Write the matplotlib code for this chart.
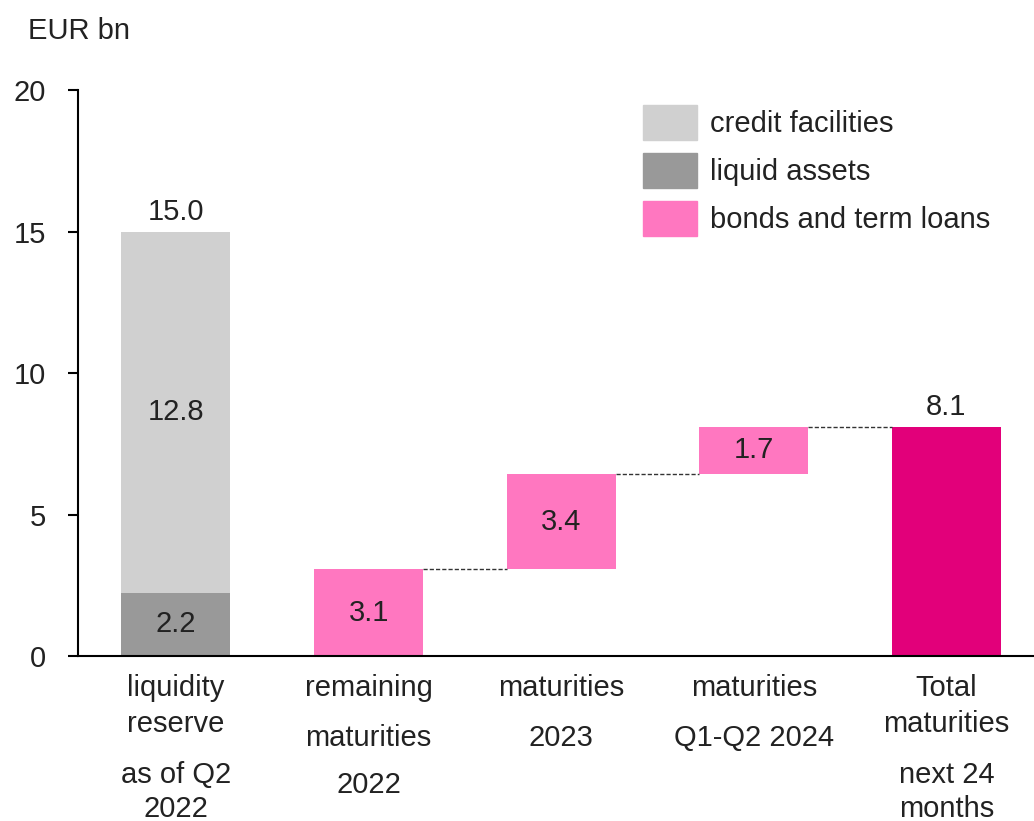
import matplotlib.pyplot as plt
import numpy as np
from matplotlib.patches import Patch
from matplotlib.transforms import ScaledTranslation

plt.rcParams["font.family"] = ["Liberation Sans", "DejaVu Sans"]
fs = 21
txt = "#222222"

# data
liquid_assets = 2.24
credit_facilities = 12.76
maturities = [3.07, 3.36, 1.67]  # remaining 2022, 2023, Q1-Q2 2024
total_maturities = sum(maturities)

cat_lines = [
    ["liquidity", "reserve", "as of Q2", "2022"],
    ["remaining", "maturities", "2022"],
    ["maturities", "2023"],
    ["maturities", "Q1-Q2 2024"],
    ["Total", "maturities", "next 24", "months"],
]
legend_labels = ["credit facilities", "liquid assets", "bonds and term loans"]

c_light = "#d0d0d0"
c_dark = "#999999"
c_pink = "#ff77c0"
c_mag = "#e2007a"

fig = plt.figure(figsize=(10.34, 8.21), dpi=100)
ax = fig.add_axes([0.0754, 0.201, 0.9246, 0.689])
w = 0.566

# liquidity reserve stack
ax.bar(0, liquid_assets, width=w, color=c_dark)
ax.bar(0, credit_facilities, bottom=liquid_assets, width=w, color=c_light)
ax.text(0, liquid_assets / 2, f"{liquid_assets:.1f}", ha="center", va="center", fontsize=fs, color=txt)
ax.text(0, liquid_assets + credit_facilities / 2, f"{credit_facilities:.1f}", ha="center", va="center",
        fontsize=fs, color=txt)
ax.text(0, liquid_assets + credit_facilities + 0.2, f"{liquid_assets + credit_facilities:.1f}",
        ha="center", va="bottom", fontsize=fs, color=txt)

# waterfall of maturities
bottoms = np.concatenate([[0], np.cumsum(maturities)[:-1]])
for i, (b, v) in enumerate(zip(bottoms, maturities)):
    ax.bar(i + 1, v, bottom=b, width=w, color=c_pink)
    ax.text(i + 1, b + v / 2, f"{v:.1f}", ha="center", va="center", fontsize=fs, color=txt)
    ax.plot([i + 1 + w / 2, i + 2 - w / 2], [b + v, b + v], color="#333333", lw=1, ls=(0, (3, 1.5)))

ax.bar(4, total_maturities, width=w, color=c_mag)
ax.text(4, total_maturities + 0.2, f"{total_maturities:.1f}", ha="center", va="bottom", fontsize=fs, color=txt)

ax.set_xlim(-0.509, 4.455)
ax.set_ylim(0, 20)
ax.set_yticks([0, 5, 10, 15, 20])
ax.set_xticks([])
ax.spines[["top", "right"]].set_visible(False)
ax.spines["left"].set_linewidth(1.5)
ax.spines["bottom"].set_linewidth(1.5)
ax.tick_params(axis="y", direction="out", length=7.2, width=1.5, pad=16, labelsize=fs, labelcolor=txt)

# category labels, line by line (baseline offsets in px below the axis)
offs_a = [40, 76, 127, 161]
offs_b = [40, 90, 137]
line_offs = [offs_a, offs_b, offs_b[:2], offs_b[:2], offs_a]
for i, (lines, offs) in enumerate(zip(cat_lines, line_offs)):
    for s, o in zip(lines, offs):
        tr = ax.get_xaxis_transform() + ScaledTranslation(0, -o / 100, fig.dpi_scale_trans)
        ax.text(i, 0, s, transform=tr, ha="center", va="baseline", fontsize=fs, color=txt)

fig.text(28 / 1034, 1 - 39 / 821, "EUR bn", fontsize=fs, color=txt, va="baseline")

handles = [Patch(color=c) for c in [c_light, c_dark, c_pink]]
leg = ax.legend(handles, legend_labels, loc="upper left", bbox_to_anchor=(643 / 1034, 1 - 105 / 821),
                bbox_transform=fig.transFigure, frameon=False, fontsize=fs, handlelength=1.85,
                handleheight=1.47, handletextpad=0.43, labelspacing=0.45, borderpad=0, borderaxespad=0)
for t in leg.get_texts():
    t.set_color(txt)

fig.savefig("out.png", dpi=100)
